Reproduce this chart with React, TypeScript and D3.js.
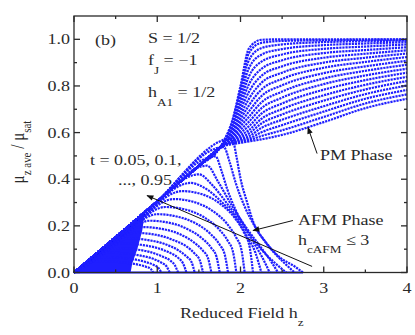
import * as d3 from "d3";

// temperatures t = 0.05 ... 0.95 (one PM curve and one AFM arc each)
const tValues = ["0.05", "0.1", "0.15", "0.2", "0.25", "0.3", "0.35", "0.4", "0.45", "0.5",
  "0.55", "0.6", "0.65", "0.7", "0.75", "0.8", "0.85", "0.9", "0.95"];

// common low-field line
const lineH = [0, 0.5, 1.0, 1.5, 1.75];
const lineM = [0, 0.152, 0.305, 0.457, 0.534];

// PM branch, read per field column (index = t)
const pmH = [1.8, 1.9, 2.0, 2.1, 2.25, 2.5, 3.0, 3.5, 4.0];
const pm180 = [0.565, 0.562, 0.56, 0.558, 0.556, 0.554, 0.553, 0.552, 0.551, 0.55, 0.549, 0.548, 0.547, 0.546, 0.545, 0.545, 0.544, 0.544, 0.543];
const pm190 = [0.65, 0.645, 0.638, 0.63, 0.622, 0.614, 0.606, 0.599, 0.592, 0.586, 0.58, 0.575, 0.57, 0.566, 0.562, 0.559, 0.556, 0.553, 0.55];
const pm200 = [0.8, 0.79, 0.775, 0.757, 0.737, 0.716, 0.695, 0.675, 0.657, 0.641, 0.626, 0.612, 0.6, 0.589, 0.58, 0.572, 0.566, 0.56, 0.556];
const pm210 = [0.96, 0.94, 0.91, 0.875, 0.84, 0.806, 0.774, 0.744, 0.716, 0.69, 0.667, 0.646, 0.627, 0.61, 0.596, 0.584, 0.574, 0.567, 0.562];
const pm225 = [0.998, 0.985, 0.962, 0.934, 0.904, 0.873, 0.843, 0.813, 0.784, 0.756, 0.729, 0.704, 0.681, 0.659, 0.639, 0.62, 0.601, 0.585, 0.571];
const pm250 = [1.0, 0.993, 0.978, 0.958, 0.935, 0.91, 0.884, 0.857, 0.83, 0.803, 0.776, 0.75, 0.725, 0.701, 0.678, 0.655, 0.632, 0.61, 0.59];
const pm300 = [1.0, 0.996, 0.988, 0.975, 0.959, 0.941, 0.921, 0.9, 0.878, 0.855, 0.832, 0.808, 0.784, 0.76, 0.737, 0.713, 0.69, 0.667, 0.645];
const pm350 = [1.0, 0.998, 0.992, 0.982, 0.969, 0.954, 0.938, 0.921, 0.903, 0.884, 0.865, 0.845, 0.825, 0.805, 0.785, 0.765, 0.745, 0.725, 0.705];
const pm400 = [1.0, 0.999, 0.995, 0.988, 0.978, 0.966, 0.953, 0.939, 0.924, 0.908, 0.891, 0.874, 0.857, 0.839, 0.821, 0.802, 0.783, 0.764, 0.745];
const pmCols = [pm180, pm190, pm200, pm210, pm225, pm250, pm300, pm350, pm400];

// AFM arcs (each ends at its h_cAFM)
const arcH = [
  [0, 0.95, 1.9, 1.95, 2.0, 2.08, 2.15, 2.3, 2.48, 2.65, 2.75],
  [0, 0.9, 1.8, 1.87, 1.94, 2.04, 2.18, 2.35, 2.52, 2.65],
  [0, 0.85, 1.7, 1.77, 1.84, 1.94, 2.08, 2.25, 2.42, 2.55],
  [0, 0.8, 1.6, 1.73, 1.9, 2.07, 2.24, 2.37, 2.45],
  [0, 0.75, 1.5, 1.67, 1.84, 2.01, 2.16, 2.27, 2.35],
  [0, 0.7, 1.4, 1.61, 1.78, 1.95, 2.08, 2.18, 2.25],
  [0, 0.65, 1.3, 1.56, 1.77, 1.94, 2.05, 2.11, 2.15],
  [0, 0.6, 1.2, 1.46, 1.67, 1.84, 1.95, 2.01, 2.05],
  [0, 0.55, 1.1, 1.36, 1.57, 1.74, 1.85, 1.91, 1.95],
  [0, 0.5, 1.0, 1.26, 1.47, 1.64, 1.75, 1.81, 1.85],
  [0, 0.455, 0.91, 1.16, 1.37, 1.54, 1.65, 1.71, 1.75],
  [0, 0.41, 0.82, 1.07, 1.28, 1.44, 1.55, 1.61, 1.65],
  [0, 0.365, 0.73, 0.98, 1.18, 1.35, 1.45, 1.51, 1.55],
  [0, 0.325, 0.65, 0.89, 1.09, 1.25, 1.35, 1.41, 1.45],
  [0, 0.285, 0.57, 0.8, 1.0, 1.16, 1.26, 1.31, 1.35],
  [0, 0.245, 0.49, 0.72, 0.91, 1.06, 1.16, 1.21, 1.25],
  [0, 0.205, 0.41, 0.63, 0.82, 0.97, 1.06, 1.11, 1.15],
  [0, 0.165, 0.33, 0.55, 0.73, 0.87, 0.96, 1.01, 1.05],
  [0, 0.125, 0.25, 0.46, 0.64, 0.78, 0.87, 0.92, 0.95],
];
const arcM = [
  [0, 0.29, 0.575, 0.5, 0.403, 0.3, 0.22, 0.132, 0.063, 0.026, 0],
  [0, 0.27, 0.538, 0.473, 0.387, 0.291, 0.193, 0.107, 0.043, 0],
  [0, 0.251, 0.498, 0.438, 0.358, 0.269, 0.179, 0.099, 0.039, 0],
  [0, 0.231, 0.458, 0.39, 0.284, 0.192, 0.11, 0.046, 0],
  [0, 0.213, 0.421, 0.371, 0.295, 0.211, 0.127, 0.059, 0],
  [0, 0.194, 0.384, 0.353, 0.3, 0.231, 0.153, 0.084, 0],
  [0, 0.176, 0.349, 0.333, 0.291, 0.23, 0.166, 0.109, 0],
  [0, 0.159, 0.315, 0.3, 0.263, 0.208, 0.149, 0.099, 0],
  [0, 0.142, 0.281, 0.268, 0.235, 0.186, 0.134, 0.088, 0],
  [0, 0.127, 0.25, 0.238, 0.209, 0.165, 0.119, 0.078, 0],
  [0, 0.113, 0.222, 0.212, 0.185, 0.146, 0.105, 0.069, 0],
  [0, 0.099, 0.195, 0.186, 0.163, 0.129, 0.093, 0.061, 0],
  [0, 0.086, 0.17, 0.162, 0.141, 0.112, 0.081, 0.053, 0],
  [0, 0.075, 0.146, 0.139, 0.122, 0.096, 0.069, 0.046, 0],
  [0, 0.064, 0.125, 0.119, 0.105, 0.083, 0.06, 0.039, 0],
  [0, 0.054, 0.105, 0.1, 0.088, 0.069, 0.05, 0.032, 0],
  [0, 0.044, 0.085, 0.081, 0.071, 0.056, 0.04, 0.027, 0],
  [0, 0.034, 0.066, 0.063, 0.056, 0.044, 0.032, 0.021, 0],
  [0, 0.025, 0.049, 0.047, 0.041, 0.033, 0.024, 0.016, 0],
];
// solid wedge of overlapping points near the origin (outline)
const coreH = [0, 0.85, 0.82, 0.76, 0.7, 0.68];
const coreM = [0, 0.258, 0.18, 0.1, 0.04, 0];
const baseH = [0, 2.75];
const baseM = [0, 0];

const xMajor = [0, 1, 2, 3, 4];
const xMinor = [0.5, 1.5, 2.5, 3.5];
const yMajor = [0, 0.2, 0.4, 0.6, 0.8, 1.0];
const yMinor = [0.1, 0.3, 0.5, 0.7, 0.9];

const BLUE = "#1f1fff";
const INK = "#2a2a2a";
const FONT = "'Liberation Serif', 'Times New Roman', serif";

const x = d3.scaleLinear().domain([0, 4]).range([74, 407]);
const y = d3.scaleLinear().domain([0, 1.1]).range([272.5, 16]);

const line = d3
  .line<[number, number]>()
  .x((d) => x(d[0]))
  .y((d) => y(d[1]))
  .curve(d3.curveMonotoneX);

const outline = d3
  .line<[number, number]>()
  .x((d) => x(d[0]))
  .y((d) => y(d[1]))
  .curve(d3.curveLinearClosed);

// text stretched horizontally like the source figure
const T = ({ px, py, anchor = "start", size = 15, children }: any) => (
  <text
    transform={`translate(${px},${py}) scale(1.2,1)`}
    textAnchor={anchor}
    fontSize={size}
    fontFamily={FONT}
    fill={INK}
  >
    {children}
  </text>
);

const App = () => {
  const pmCurves = tValues.map((_, i) => {
    const pts: [number, number][] = lineH.map((h, k) => [h, lineM[k]]);
    pmH.forEach((h, k) => pts.push([h, pmCols[k][i]]));
    return pts;
  });
  const arcs = tValues.map((_, i) =>
    arcH[i].map((h, k) => [h, arcM[i][k]] as [number, number])
  );
  const core = coreH.map((h, k) => [h, coreM[k]] as [number, number]);

  const x0 = x(0), x1 = x(4), y0 = y(0), y1 = y.range()[1];

  return (
    <svg
      width={415}
      height={335}
      style={{ position: "absolute", left: 0, top: 0, background: "white" }}
    >
      <defs>
        <marker id="ah" viewBox="0 0 10 10" refX="9" refY="5" markerWidth="9" markerHeight="7" orient="auto-start-reverse" markerUnits="userSpaceOnUse">
          <path d="M0,1 L10,5 L0,9 Z" fill="#111" />
        </marker>
      </defs>

      <path d={outline(core) || ""} fill={BLUE} />
      <g fill="none" stroke={BLUE} strokeWidth={2.2} strokeDasharray="2.2 0.9">
        <path d={line(baseH.map((h, k) => [h, baseM[k]]) as any) || ""} strokeDasharray="none" />
        {arcs.map((a, i) => (
          <path key={"a" + i} d={line(a) || ""} />
        ))}
        {pmCurves.map((c, i) => (
          <path key={"p" + i} d={line(c) || ""} />
        ))}
      </g>

      {/* frame and ticks */}
      <g stroke={INK} strokeWidth={1.3}>
        <rect x={x0} y={y1} width={x1 - x0} height={y0 - y1} fill="none" />
        {xMajor.map((v) => (
          <g key={"xm" + v}>
            <line x1={x(v)} x2={x(v)} y1={y0} y2={y0 - 6} />
            <line x1={x(v)} x2={x(v)} y1={y1} y2={y1 + 6} />
          </g>
        ))}
        {xMinor.map((v) => (
          <g key={"xn" + v}>
            <line x1={x(v)} x2={x(v)} y1={y0} y2={y0 - 3} />
            <line x1={x(v)} x2={x(v)} y1={y1} y2={y1 + 3} />
          </g>
        ))}
        {yMajor.map((v) => (
          <g key={"ym" + v}>
            <line x1={x0} x2={x0 + 6} y1={y(v)} y2={y(v)} />
            <line x1={x1} x2={x1 - 6} y1={y(v)} y2={y(v)} />
          </g>
        ))}
        {yMinor.map((v) => (
          <g key={"yn" + v}>
            <line x1={x0} x2={x0 + 3} y1={y(v)} y2={y(v)} />
            <line x1={x1} x2={x1 - 3} y1={y(v)} y2={y(v)} />
          </g>
        ))}
      </g>

      {xMajor.map((v) => (
        <T key={"xl" + v} px={x(v)} py={293} anchor="middle">{String(v)}</T>
      ))}
      {yMajor.map((v) => (
        <T key={"yl" + v} px={70} py={y(v) + 5} anchor="end">{v.toFixed(1)}</T>
      ))}

      {/* axis titles */}
      <T px={180} py={318}>
        Reduced Field h<tspan fontSize={11} dy={8}>z</tspan>
      </T>
      <text
        transform={`translate(24,152) scale(1.2,1) rotate(-90)`}
        textAnchor="middle"
        fontSize={15}
        fontFamily={FONT}
        fill={INK}
      >
        μ<tspan fontSize={11} dy={6}>z ave</tspan>
        <tspan dy={-6}> / μ</tspan>
        <tspan fontSize={11} dy={6}>sat</tspan>
      </text>

      {/* annotations */}
      <T px={95} py={45}>(b)</T>
      <T px={148} py={43}>S = 1/2</T>
      <T px={148} py={65}>
        f<tspan fontSize={11} dy={9}>J</tspan>
        <tspan dy={-9}> = −1</tspan>
      </T>
      <T px={148} py={97}>
        h<tspan fontSize={11} dy={9}>A1</tspan>
        <tspan dy={-9}> = 1/2</tspan>
      </T>
      <T px={90} py={165}>t = 0.05, 0.1,</T>
      <T px={118} py={185}>..., 0.95</T>
      <T px={320} py={160}>PM Phase</T>
      <T px={298} py={225}>AFM Phase</T>
      <T px={298} py={245}>
        h<tspan fontSize={11} dy={8}>cAFM</tspan>
        <tspan dy={-8}> ≤ 3</tspan>
      </T>

      <g stroke="#111" strokeWidth={1} markerEnd="url(#ah)">
        <line x1={x(2.86)} y1={y(0.026)} x2={x(0.877)} y2={y(0.33)} />
        <line x1={x(2.92)} y1={y(0.51)} x2={x(2.81)} y2={y(0.622)} />
        <line x1={x(2.63)} y1={y(0.223)} x2={x(2.15)} y2={y(0.18)} />
      </g>
    </svg>
  );
};

export default App;
